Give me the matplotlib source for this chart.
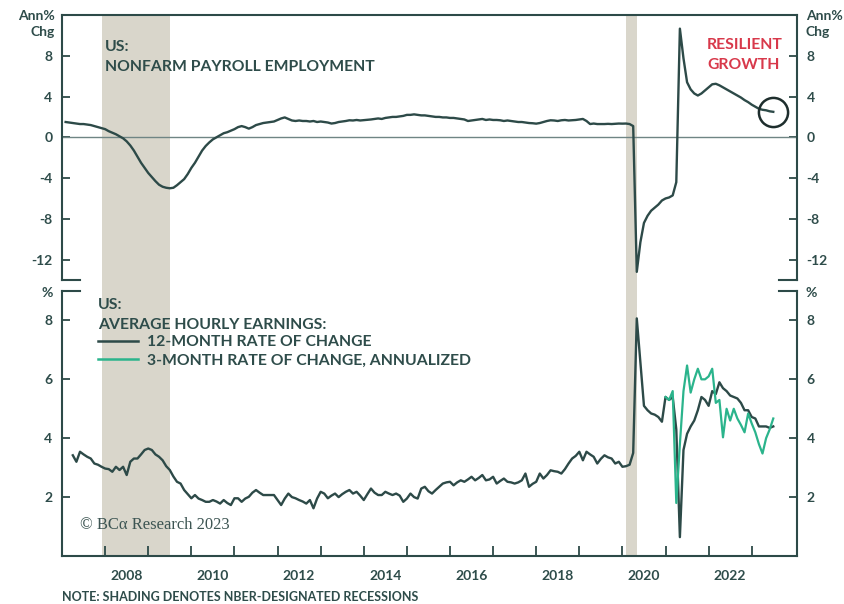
import numpy as np
import matplotlib
matplotlib.use("Agg")
import matplotlib.pyplot as plt

plt.rcParams['font.family'] = ['Lato', 'DejaVu Sans']
plt.rcParams['font.weight'] = 'bold'
plt.rcParams['axes.unicode_minus'] = False

# ---- data (monthly) ----
# US nonfarm payroll employment, annual % change, Jan 2007 - Jun 2023
payroll = [
    1.5, 1.45, 1.4, 1.35, 1.3, 1.3, 1.25, 1.2, 1.1, 1.0, 0.9, 0.8,           # 2007
    0.6, 0.45, 0.3, 0.1, -0.1, -0.4, -0.8, -1.3, -1.9, -2.5, -3.0, -3.5,     # 2008
    -3.9, -4.3, -4.65, -4.85, -4.95, -5.0, -4.95, -4.7, -4.4, -4.1, -3.6, -3.0,  # 2009
    -2.5, -1.9, -1.3, -0.85, -0.5, -0.2, 0.0, 0.2, 0.4, 0.5, 0.65, 0.8,      # 2010
    1.0, 1.1, 1.0, 0.85, 1.0, 1.2, 1.3, 1.4, 1.45, 1.5, 1.55, 1.7,           # 2011
    1.85, 1.95, 1.8, 1.65, 1.6, 1.65, 1.6, 1.6, 1.55, 1.6, 1.5, 1.55,        # 2012
    1.5, 1.45, 1.35, 1.4, 1.5, 1.55, 1.6, 1.67, 1.65, 1.7, 1.65, 1.68,       # 2013
    1.7, 1.75, 1.8, 1.85, 1.8, 1.9, 1.95, 2.0, 2.0, 2.05, 2.1, 2.2,          # 2014
    2.2, 2.25, 2.2, 2.15, 2.15, 2.1, 2.05, 2.0, 2.0, 1.95, 1.95, 1.9,        # 2015
    1.9, 1.85, 1.8, 1.75, 1.6, 1.65, 1.7, 1.75, 1.8, 1.7, 1.75, 1.7,         # 2016
    1.7, 1.67, 1.6, 1.65, 1.6, 1.55, 1.5, 1.5, 1.45, 1.4, 1.38, 1.34,        # 2017
    1.4, 1.5, 1.6, 1.67, 1.65, 1.6, 1.67, 1.7, 1.65, 1.67, 1.7, 1.75,        # 2018
    1.8, 1.6, 1.3, 1.35, 1.3, 1.3, 1.3, 1.32, 1.3, 1.32, 1.35, 1.34,         # 2019
    1.35, 1.3, 1.1, -13.2, -10.3, -8.4, -7.7, -7.2, -6.9, -6.6, -6.2, -6.0,  # 2020
    -5.9, -5.7, -4.4, 10.66, 7.75, 5.4, 4.7, 4.3, 4.1, 4.3, 4.6, 4.9,        # 2021
    5.2, 5.25, 5.1, 4.9, 4.7, 4.5, 4.3, 4.1, 3.9, 3.65, 3.45, 3.2,           # 2022
    3.0, 2.8, 2.7, 2.65, 2.55, 2.5,                                          # 2023
]

# Average hourly earnings, 12-month % change, Mar 2007 - Jun 2023
ahe_12m = [
    3.42, 3.2, 3.54, 3.45, 3.37, 3.31, 3.14, 3.1, 3.03, 2.97,                # 2007
    2.95, 2.86, 3.03, 2.92, 3.03, 2.75, 3.2, 3.31, 3.31, 3.45, 3.6, 3.65,    # 2008
    3.6, 3.45, 3.37, 3.25, 3.05, 2.92, 2.7, 2.52, 2.46, 2.24, 2.1, 1.96,     # 2009
    2.07, 1.95, 1.9, 1.84, 1.84, 1.9, 1.85, 1.78, 1.9, 1.8, 1.73, 1.96,      # 2010
    1.96, 1.84, 1.95, 2.01, 2.15, 2.24, 2.15, 2.07, 2.07, 2.07, 2.07, 1.9,   # 2011
    1.73, 1.95, 2.12, 2.0, 1.96, 1.9, 1.85, 1.78, 1.9, 1.62, 1.95, 2.18,     # 2012
    2.12, 1.96, 2.05, 2.12, 2.0, 2.1, 2.18, 2.24, 2.12, 2.18, 2.05, 1.9,     # 2013
    2.1, 2.29, 2.15, 2.07, 2.07, 2.18, 2.12, 2.07, 2.12, 2.05, 1.84, 1.95,   # 2014
    2.12, 2.0, 1.95, 2.29, 2.35, 2.2, 2.12, 2.24, 2.35, 2.46, 2.5, 2.52,     # 2015
    2.4, 2.5, 2.57, 2.52, 2.6, 2.69, 2.57, 2.65, 2.75, 2.57, 2.6, 2.69,      # 2016
    2.46, 2.55, 2.63, 2.52, 2.5, 2.46, 2.5, 2.57, 2.8, 2.35, 2.45, 2.52,     # 2017
    2.8, 2.63, 2.75, 2.91, 2.88, 2.86, 2.8, 2.95, 3.14, 3.31, 3.4, 3.54,     # 2018
    3.25, 3.54, 3.45, 3.37, 3.14, 3.3, 3.42, 3.35, 3.31, 3.14, 3.2, 3.03,    # 2019
    3.05, 3.1, 3.5, 8.07, 6.6, 5.1, 4.95, 4.84, 4.8, 4.72, 4.56, 5.4,        # 2020
    5.3, 5.4, 4.3, 0.64, 3.6, 4.15, 4.4, 4.6, 4.95, 5.4, 5.3, 5.1,           # 2021
    5.6, 5.5, 5.9, 5.7, 5.6, 5.45, 5.4, 5.35, 5.2, 4.95, 4.95, 4.72,         # 2022
    4.67, 4.4, 4.4, 4.4, 4.35, 4.4,                                          # 2023
]

# Average hourly earnings, 3-month % change annualized, Dec 2020 - Jun 2023
ahe_3m = [
    5.4,                                                                     # 2020
    5.3, 5.6, 1.8, 3.8, 5.6, 6.47, 5.55, 6.0, 6.36, 6.0, 6.0, 6.1,           # 2021
    6.36, 5.2, 5.3, 4.03, 5.0, 4.6, 5.0, 4.67, 4.45, 4.2, 4.84, 4.5,         # 2022
    4.2, 3.8, 3.48, 4.0, 4.3, 4.67,                                          # 2023
]

# NBER recessions (start year, start month, end year, end month)
recessions = [(2007, 12, 2009, 6), (2020, 2, 2020, 4)]

year_ticks = list(range(2008, 2024))
year_labels = [2008, 2010, 2012, 2014, 2016, 2018, 2020, 2022]


def month_end(year, month, n):
    # decimal year at the end of each month
    return year + (month - 1 + np.arange(n) + 1) / 12.0


x_pay = month_end(2007, 1, len(payroll))
x_ahe = month_end(2007, 3, len(ahe_12m))
x_3m = month_end(2020, 12, len(ahe_3m))

DARK = '#2d4a48'
GREEN = '#2bb48c'
TEXT = '#2e4c4a'
SHADE = '#d9d6cb'
RED = '#d8394b'
FS = 11.3

fig = plt.figure(figsize=(8.44, 6.04), dpi=100)
L, W = 0.0735, 0.8708
XMIN, XMAX = 2007.0, 2024.05

# background axes for continuous recession shading
bg = fig.add_axes([L, 0.0795, W, 0.9752 - 0.0795])
bg.set_xlim(XMIN, XMAX)
bg.axis('off')
for y0, m0, y1, m1 in recessions:
    bg.axvspan(y0 + (m0 - 1) / 12, y1 + m1 / 12, color=SHADE, lw=0)

ax1 = fig.add_axes([L, 0.5364, W, 0.4388])
ax2 = fig.add_axes([L, 0.0795, W, 0.4387])

for ax in (ax1, ax2):
    ax.patch.set_alpha(0)
    ax.set_xlim(XMIN, XMAX)
    for s in ax.spines.values():
        s.set_color(DARK)
        s.set_linewidth(1.5)
    ax.tick_params(axis='y', direction='in', length=6, width=1.3, colors=DARK,
                   labelcolor=TEXT, labelsize=10, left=True, right=True,
                   labelleft=True, labelright=True, pad=7)

# ---- top panel ----
ax1.set_ylim(-14, 12)
ax1.set_yticks([-12, -8, -4, 0, 4, 8])
ax1.spines['bottom'].set_visible(False)
ax1.set_xticks([])
ax1.axhline(0, color='#6f8584', lw=1.0)
ax1.plot(x_pay, payroll, color=DARK, lw=1.7)
ax1.plot(x_pay[-1], payroll[-1], 'o', ms=21, mfc='none', mec='#1e2e2d', mew=1.8)
for xf in (0, 1):
    ax1.plot([xf, xf + (0.024 if xf == 0 else -0.024)], [0, 0], color=DARK,
             lw=1.5, transform=ax1.transAxes, clip_on=False)

ax1.text(0.0585, 0.879, 'US:', transform=ax1.transAxes, color=TEXT,
         fontsize=FS, va='center')
ax1.text(0.0585, 0.804, 'NONFARM PAYROLL EMPLOYMENT', transform=ax1.transAxes,
         color=TEXT, fontsize=FS, va='center')
ax1.text(0.8776, 0.887, 'RESILIENT', transform=ax1.transAxes, color=RED,
         fontsize=FS, va='center')
ax1.text(0.8776, 0.811, 'GROWTH', transform=ax1.transAxes, color=RED,
         fontsize=FS, va='center')

# ---- bottom panel ----
ax2.set_ylim(0, 9)
ax2.set_yticks([2, 4, 6, 8])
ax2.spines['top'].set_visible(False)
for xf in (0, 1):
    ax2.plot([xf, xf + (0.024 if xf == 0 else -0.024)], [1, 1], color=DARK,
             lw=1.5, transform=ax2.transAxes, clip_on=False)
ax2.set_xticks(year_ticks)
ax2.set_xticklabels([])
ax2.set_xticks([y + 0.5 for y in year_labels], minor=True)
ax2.set_xticklabels([str(y) for y in year_labels], minor=True)
ax2.tick_params(axis='x', which='major', direction='in', length=7, width=1.3,
                colors=DARK)
ax2.tick_params(axis='x', which='minor', length=0, labelcolor=TEXT,
                labelsize=10, pad=10)

ax2.plot(x_ahe, ahe_12m, color=DARK, lw=1.7)
ax2.plot(x_3m, ahe_3m, color=GREEN, lw=1.6)

ax2.text(0.049, 0.947, 'US:', transform=ax2.transAxes, color=TEXT,
         fontsize=FS, va='center')
ax2.text(0.049, 0.872, 'AVERAGE HOURLY EARNINGS:', transform=ax2.transAxes,
         color=TEXT, fontsize=FS, va='center')
ax2.plot([0.049, 0.103], [0.811, 0.811], color=DARK, lw=1.8,
         transform=ax2.transAxes)
ax2.plot([0.049, 0.103], [0.743, 0.743], color=GREEN, lw=1.8,
         transform=ax2.transAxes)
ax2.text(0.1156, 0.806, '12-MONTH RATE OF CHANGE', transform=ax2.transAxes,
         color=TEXT, fontsize=FS, va='center')
ax2.text(0.1156, 0.736, '3-MONTH RATE OF CHANGE, ANNUALIZED',
         transform=ax2.transAxes, color=TEXT, fontsize=FS, va='center')
ax2.text(0.0245, 0.117, '© BCα Research 2023', transform=ax2.transAxes,
         color='#3d5553', fontsize=12, va='center', fontweight='normal',
         family=['Liberation Serif', 'DejaVu Serif'])

# unit labels
fig.text(55 / 844, 1 - 16 / 604, 'Ann%', ha='right', va='center', color=TEXT, fontsize=10)
fig.text(55 / 844, 1 - 32 / 604, 'Chg', ha='right', va='center', color=TEXT, fontsize=10)
fig.text(806 / 844, 1 - 16 / 604, 'Ann%', ha='left', va='center', color=TEXT, fontsize=10)
fig.text(806 / 844, 1 - 32 / 604, 'Chg', ha='left', va='center', color=TEXT, fontsize=10)
fig.text(53 / 844, 1 - 293 / 604, '%', ha='right', va='center', color=TEXT, fontsize=10)
fig.text(806 / 844, 1 - 293 / 604, '%', ha='left', va='center', color=TEXT, fontsize=10)

fig.text(62 / 844, 1 - 597 / 604, 'NOTE: SHADING DENOTES NBER-DESIGNATED RECESSIONS',
         ha='left', va='center', color=TEXT, fontsize=9)

fig.savefig('out.png', dpi=100)
